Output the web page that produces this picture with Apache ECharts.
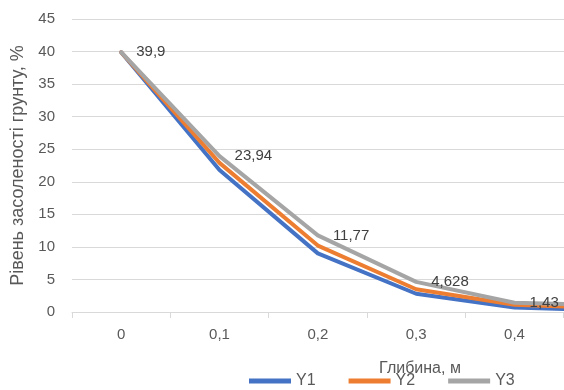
<!DOCTYPE html>
<html>
<head>
<meta charset="utf-8">
<script src="https://cdn.jsdelivr.net/npm/echarts@6/dist/echarts.min.js"></script>
<style>
  html, body { margin: 0; padding: 0; background: #fff; }
  #chart { width: 564px; height: 390px; }
</style>
</head>
<body>
<div id="chart"></div>
<script>
// depth, m (the last category lies past the right edge of the picture)
const depths = ['0', '0,1', '0,2', '0,3', '0,4', '0,5'];
const y1 = [39.9, 21.8, 9.0, 2.8, 0.7, 0.2];
const y2 = [39.9, 22.9, 10.2, 3.5, 1.1, 0.6];
const y3 = [39.9, 23.94, 11.77, 4.628, 1.43, 1.0];
const yTicks = [0, 45, 5];

const font = 'Liberation Sans, Arial, sans-serif';
const textColor = '#595959';
const gridColor = '#d9d9d9';

const chart = echarts.init(document.getElementById('chart'));

const lineSeries = (name, data, color, withLabels) => ({
  name,
  type: 'line',
  data,
  symbol: 'circle',
  symbolSize: 0.1,
  showSymbol: true,
  clip: false,
  itemStyle: { color },
  lineStyle: { color, width: 4, cap: 'round', join: 'round' },
  emphasis: { disabled: true },
  label: {
    show: withLabels,
    position: 'right',
    distance: 15,
    color: '#404040',
    fontFamily: font,
    fontSize: 15,
    formatter: (p) => p.dataIndex < 5 ? String(p.value).replace('.', ',') : ''
  }
});

chart.setOption({
  animation: false,
  title: {
    text: 'Глибина, м',
    left: 415,
    top: 356,
    textAlign: 'center',
    textStyle: { color: textColor, fontFamily: font, fontSize: 16, fontWeight: 'normal' }
  },
  legend: {
    left: 244,
    top: 368,
    icon: 'rect',
    itemWidth: 42,
    itemHeight: 5,
    itemGap: 33,
    textStyle: { color: textColor, fontFamily: font, fontSize: 16 },
    data: ['Y1', 'Y2', 'Y3']
  },
  grid: { left: 72, top: 19, width: 590, height: 293, containLabel: false, outerBoundsMode: 'none' },
  xAxis: {
    type: 'category',
    data: depths,
    boundaryGap: true,
    axisLine: { lineStyle: { color: gridColor } },
    axisTick: { show: true, length: 6, lineStyle: { color: gridColor } },
    axisLabel: { color: textColor, fontFamily: font, fontSize: 15, margin: 15 },
    splitLine: { show: false }
  },
  yAxis: {
    type: 'value',
    min: yTicks[0],
    max: yTicks[1],
    interval: yTicks[2],
    name: 'Рівень засоленості грунту, %',
    nameLocation: 'middle',
    nameGap: 44,
    nameTextStyle: { color: textColor, fontFamily: font, fontSize: 18 },
    axisLine: { show: false },
    axisTick: { show: false },
    axisLabel: { color: textColor, fontFamily: font, fontSize: 15, margin: 17 },
    splitLine: { lineStyle: { color: gridColor } }
  },
  series: [
    lineSeries('Y1', y1, '#4472C4', false),
    lineSeries('Y2', y2, '#ED7D31', false),
    lineSeries('Y3', y3, '#A5A5A5', true)
  ]
});

window.addEventListener('resize', () => chart.resize());
</script>
</body>
</html>
